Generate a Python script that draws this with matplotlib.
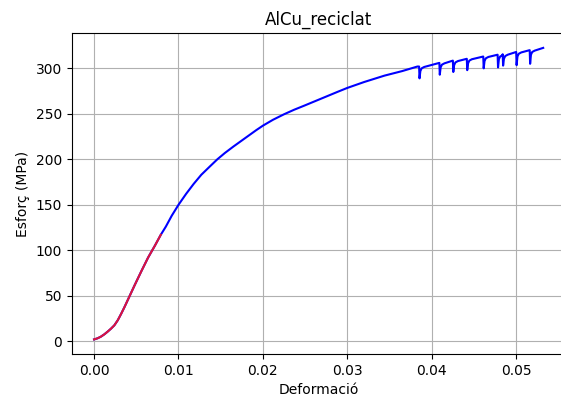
import numpy as np
import matplotlib
matplotlib.use("Agg")
import matplotlib.pyplot as plt

# smooth part of the curve (strain, MPa)
strain_main = [0.0, 0.0004, 0.0008, 0.0012, 0.0016, 0.0020, 0.0024, 0.0028, 0.0032, 0.0036, 0.0040,
               0.0044, 0.0048, 0.0056, 0.0064, 0.0072, 0.0079,
               0.0085, 0.0092, 0.0100, 0.0109, 0.0118, 0.0127, 0.0137, 0.0146, 0.0155, 0.0165,
               0.0174, 0.0183, 0.0192, 0.0200, 0.0212, 0.0225, 0.0237, 0.0249, 0.0262, 0.0275,
               0.0288, 0.0300, 0.0320, 0.0344, 0.0365, 0.0383]
stress_main = [2.0, 3.2, 5.0, 7.5, 10.5, 13.8, 17.5, 23.0, 30.0, 37.5, 45.5,
               53.5, 61.5, 77.0, 92.0, 105.0, 117.0,
               126.0, 138.0, 150.0, 162.0, 173.0, 183.0, 192.0, 200.0, 207.0, 214.0,
               220.0, 226.0, 232.0, 237.0, 243.5, 249.5, 254.5, 259.0, 264.0, 269.0,
               274.0, 278.5, 285.0, 292.0, 297.0, 302.0]

# serrated part: drop positions, peak before drop and bottom of drop
drop_strain = [0.0385, 0.0409, 0.0425, 0.04415, 0.0461, 0.0478, 0.0484, 0.0500, 0.0516]
drop_peak = [302.0, 306.0, 308.5, 310.5, 313.0, 315.0, 315.5, 318.0, 320.0]
drop_bottom = [289.0, 293.0, 296.0, 298.0, 300.0, 301.0, 303.0, 303.5, 305.0]
end_strain = 0.0532
end_stress = 322.5

lin_limit = 0.0079

# build the full curve
x = list(strain_main)
y = list(stress_main)
for i in range(len(drop_strain)):
    d = drop_strain[i]
    p = drop_peak[i]
    b = drop_bottom[i]
    x += [d, d + 0.00005, d + 0.00015, d + 0.0003, d + 0.0006]
    y += [p, b, p - 5, p - 2, p - 0.5]
x.append(end_strain)
y.append(end_stress)
x = np.array(x)
y = np.array(y)

fig = plt.figure(figsize=(5.61, 4.01), dpi=100)
ax = fig.add_axes([71.7 / 561, (401 - 354) / 401, (566 - 71.7) / 561, (354 - 33.3) / 401])

ax.plot(x, y, color="blue")
mask = x <= lin_limit
ax.plot(x[mask], y[mask], color="crimson")

ax.set_xlim(-0.00265, 0.0559)
ax.set_title("AlCu_reciclat")
ax.set_xlabel("Deformació")
ax.set_ylabel("Esforç (MPa)")
ax.grid(True)

fig.savefig("out.png", dpi=100)
